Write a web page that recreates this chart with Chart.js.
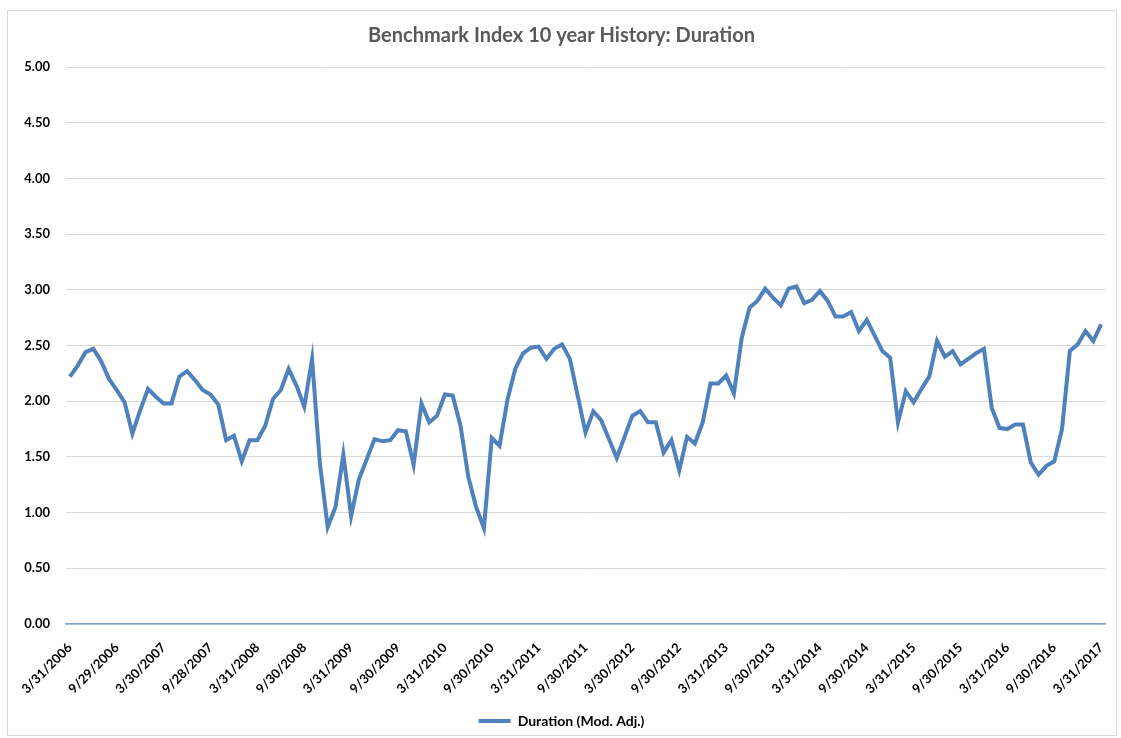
<!DOCTYPE html>
<html>
<head>
<meta charset="utf-8">
<script src="https://cdn.jsdelivr.net/npm/chart.js@4.4.1/dist/chart.umd.min.js"></script>
<style>
  html, body { margin: 0; padding: 0; background: #ffffff; }
  #wrap { position: relative; width: 1121px; height: 738px; }
  #frame { position: absolute; left: 7px; top: 10px; width: 1110px; height: 726px; border: 1px solid #D9D9D9; box-sizing: border-box; pointer-events: none; }
</style>
</head>
<body>
<div id="wrap">
  <canvas id="c" width="1121" height="738"></canvas>
  <div id="frame"></div>
</div>
<script>
const chartTitle = "Benchmark Index 10 year History: Duration";
const seriesName = "Duration (Mod. Adj.)";

const categories = [
  "3/31/2006","4/30/2006","5/31/2006","6/30/2006","7/31/2006","8/31/2006","9/29/2006","10/31/2006","11/30/2006","12/31/2006",
  "1/31/2007","2/28/2007","3/30/2007","4/30/2007","5/31/2007","6/30/2007","7/31/2007","8/31/2007","9/28/2007","10/31/2007","11/30/2007","12/31/2007",
  "1/31/2008","2/29/2008","3/31/2008","4/30/2008","5/31/2008","6/30/2008","7/31/2008","8/31/2008","9/30/2008","10/31/2008","11/30/2008","12/31/2008",
  "1/31/2009","2/28/2009","3/31/2009","4/30/2009","5/31/2009","6/30/2009","7/31/2009","8/31/2009","9/30/2009","10/31/2009","11/30/2009","12/31/2009",
  "1/31/2010","2/28/2010","3/31/2010","4/30/2010","5/31/2010","6/30/2010","7/31/2010","8/31/2010","9/30/2010","10/31/2010","11/30/2010","12/31/2010",
  "1/31/2011","2/28/2011","3/31/2011","4/30/2011","5/31/2011","6/30/2011","7/31/2011","8/31/2011","9/30/2011","10/31/2011","11/30/2011","12/31/2011",
  "1/31/2012","2/29/2012","3/30/2012","4/30/2012","5/31/2012","6/30/2012","7/31/2012","8/31/2012","9/30/2012","10/31/2012","11/30/2012","12/31/2012",
  "1/31/2013","2/28/2013","3/31/2013","4/30/2013","5/31/2013","6/30/2013","7/31/2013","8/31/2013","9/30/2013","10/31/2013","11/30/2013","12/31/2013",
  "1/31/2014","2/28/2014","3/31/2014","4/30/2014","5/31/2014","6/30/2014","7/31/2014","8/31/2014","9/30/2014","10/31/2014","11/30/2014","12/31/2014",
  "1/31/2015","2/28/2015","3/31/2015","4/30/2015","5/31/2015","6/30/2015","7/31/2015","8/31/2015","9/30/2015","10/31/2015","11/30/2015","12/31/2015",
  "1/31/2016","2/29/2016","3/31/2016","4/30/2016","5/31/2016","6/30/2016","7/31/2016","8/31/2016","9/30/2016","10/31/2016","11/30/2016","12/31/2016",
  "1/31/2017","2/28/2017","3/31/2017"
];

const durationValues = [
  2.22, 2.32, 2.44, 2.47, 2.36, 2.20, 2.10, 1.99, 1.71, 1.92,
  2.11, 2.04, 1.98, 1.98, 2.22, 2.27, 2.19, 2.10, 2.06, 1.97,
  1.65, 1.69, 1.46, 1.65, 1.65, 1.78, 2.02, 2.10, 2.29, 2.14,
  1.95, 2.38, 1.44, 0.87, 1.05, 1.52, 0.97, 1.30, 1.48, 1.66,
  1.64, 1.65, 1.74, 1.73, 1.43, 1.98, 1.81, 1.87, 2.06, 2.05,
  1.78, 1.32, 1.05, 0.86, 1.67, 1.60, 2.01, 2.29, 2.43, 2.48,
  2.49, 2.38, 2.47, 2.51, 2.38, 2.05, 1.72, 1.91, 1.83, 1.66,
  1.49, 1.68, 1.87, 1.91, 1.81, 1.81, 1.54, 1.65, 1.38, 1.68,
  1.62, 1.81, 2.16, 2.16, 2.23, 2.07, 2.57, 2.84, 2.90, 3.01,
  2.93, 2.86, 3.01, 3.03, 2.88, 2.91, 2.99, 2.90, 2.76, 2.76,
  2.80, 2.63, 2.73, 2.59, 2.45, 2.39, 1.81, 2.09, 1.99, 2.11,
  2.22, 2.54, 2.40, 2.45, 2.33, 2.38, 2.43, 2.47, 1.94, 1.76,
  1.75, 1.79, 1.79, 1.45, 1.34, 1.42, 1.46, 1.75, 2.45, 2.51,
  2.63, 2.54, 2.69
];

const tickLabels = [
  "3/31/2006","9/29/2006","3/30/2007","9/28/2007","3/31/2008","9/30/2008",
  "3/31/2009","9/30/2009","3/31/2010","9/30/2010","3/31/2011","9/30/2011",
  "3/30/2012","9/30/2012","3/31/2013","9/30/2013","3/31/2014","9/30/2014",
  "3/31/2015","9/30/2015","3/31/2016","9/30/2016","3/31/2017"
];

const yTickValues = [0, 0.5, 1, 1.5, 2, 2.5, 3, 3.5, 4, 4.5, 5];

const lineColor = "#4F81BD";
const FONT = "Lato, 'DejaVu Sans', sans-serif";

new Chart(document.getElementById("c"), {
  type: "line",
  data: {
    labels: categories,
    datasets: [{
      label: seriesName,
      data: durationValues,
      borderColor: lineColor,
      backgroundColor: lineColor,
      borderWidth: 4,
      pointRadius: 0,
      tension: 0,
      fill: false
    }]
  },
  options: {
    responsive: false,
    animation: false,
    layout: { padding: { left: 18, right: 16, top: 0, bottom: 0 } },
    plugins: {
      title: {
        display: true,
        text: chartTitle,
        color: "#595959",
        font: { family: FONT, size: 20, weight: "bold" },
        padding: { top: 24, bottom: 19 }
      },
      legend: {
        display: true,
        position: "bottom",
        labels: {
          color: "#595959",
          font: { family: FONT, size: 14, weight: "bold" },
          boxWidth: 32,
          boxHeight: 4,
          padding: 6,
          generateLabels: (chart) => [{
            text: seriesName,
            fillStyle: lineColor,
            strokeStyle: lineColor,
            lineWidth: 0,
            datasetIndex: 0
          }]
        }
      },
      tooltip: { enabled: false }
    },
    scales: {
      x: {
        type: "category",
        offset: true,
        grid: { display: false, drawTicks: false },
        border: { display: true, color: "#7FA0CC", width: 1.5 },
        ticks: {
          autoSkip: false,
          minRotation: 45,
          maxRotation: 45,
          padding: 16,
          color: "#000000",
          font: { family: FONT, size: 13, weight: "bold" },
          callback: function (value, index) {
            const lbl = this.getLabelForValue(value);
            return tickLabels.includes(lbl) ? lbl : "";
          }
        },
        afterFit: (scale) => { scale.height = 84; scale.paddingLeft = 0; scale.paddingRight = 0; }
      },
      y: {
        min: 0,
        max: 5,
        afterBuildTicks: (scale) => { scale.ticks = yTickValues.map(v => ({ value: v })); },
        grid: { color: "#D9D9D9", lineWidth: 1, drawTicks: false },
        border: { display: false },
        ticks: {
          padding: 16,
          color: "#000000",
          font: { family: FONT, size: 13, weight: "bold" },
          callback: (v) => Number(v).toFixed(2)
        },
        afterFit: (scale) => { scale.width = 48; }
      }
    }
  }
});
</script>
</body>
</html>
